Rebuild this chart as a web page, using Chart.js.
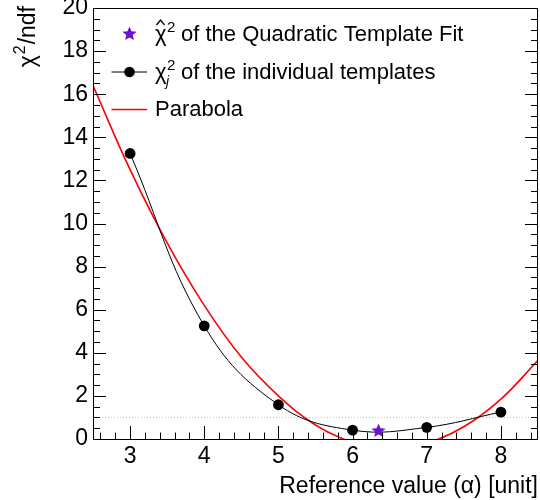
<!DOCTYPE html>
<html>
<head>
<meta charset="utf-8">
<script src="https://cdn.jsdelivr.net/npm/chart.js@4.4.1/dist/chart.umd.min.js"></script>
<style>
  html, body { margin: 0; padding: 0; background: #fff; }
  #wrap { width: 540px; height: 500px; }
</style>
</head>
<body>
<div id="wrap"><canvas id="chi2Chart" width="540" height="500"></canvas></div>
<script>
// values
const templateX = [3, 4, 5, 6, 7, 8];
const templateChi2 = [13.25, 5.25, 1.59, 0.41, 0.54, 1.25];
const fitX = [6.35];
const fitChi2 = [0.40];
const parabolaX = [2.5, 3, 3.5, 4, 4.5, 5, 5.5, 6, 6.5, 7, 7.5, 8, 8.5];
const parabolaY = [16.4, 12.5, 9.1, 6.2, 3.8, 2.0, 0.65, -0.15, -0.43, -0.19, 0.57, 1.85, 3.65];
const refLevel = 1;
const xRange = [2.5, 8.5];
const yRange = [0, 20];
const xTickLabels = [3, 4, 5, 6, 7, 8];
const yTickLabels = [0, 2, 4, 6, 8, 10, 12, 14, 16, 18, 20];

const FONT = '"Liberation Sans", Arial, sans-serif';
const PURPLE = '#6a10d8';

// filled star marker (ROOT style 29)
function makeStar(size, color) {
  const c = document.createElement('canvas');
  c.width = size; c.height = size;
  const g = c.getContext('2d');
  const R = size / 2, r = R * 0.45;
  g.beginPath();
  for (let i = 0; i < 10; i++) {
    const rad = i % 2 ? r : R;
    const a = -Math.PI / 2 + i * Math.PI / 5;
    const px = R + rad * Math.cos(a), py = R + 0.5 + rad * Math.sin(a);
    if (i === 0) g.moveTo(px, py); else g.lineTo(px, py);
  }
  g.closePath();
  g.fillStyle = color;
  g.fill();
  return c;
}
const starImg = makeStar(15, PURPLE);

const toXY = (xs, ys) => xs.map((x, i) => ({ x: x, y: ys[i] }));

// frame, inside ticks, titles and the legend, ROOT style
const rootDecor = {
  id: 'rootDecor',
  afterDraw(chart) {
    const ctx = chart.ctx;
    const a = chart.chartArea;
    const xs = chart.scales.x, ys = chart.scales.y;
    ctx.save();
    ctx.strokeStyle = '#000';
    ctx.lineWidth = 1;
    ctx.strokeRect(a.left + 0.5, a.top + 0.5, a.right - a.left - 1, a.bottom - a.top);

    // x ticks (bottom only)
    ctx.beginPath();
    for (let v = Math.ceil(xRange[0] * 5); v <= Math.floor(xRange[1] * 5); v++) {
      const px = Math.round(xs.getPixelForValue(v / 5)) + 0.5;
      const len = (v % 5 === 0) ? 13 : 6.5;
      ctx.moveTo(px, a.bottom);
      ctx.lineTo(px, a.bottom - len);
    }
    // y ticks (left and right)
    for (let v = yRange[0] * 2; v <= yRange[1] * 2; v++) {
      const py = Math.round(ys.getPixelForValue(v / 2)) + 0.5;
      const len = (v % 4 === 0) ? 13 : 7;
      ctx.moveTo(a.left, py); ctx.lineTo(a.left + len, py);
      ctx.moveTo(a.right, py); ctx.lineTo(a.right - len, py);
    }
    ctx.stroke();

    ctx.fillStyle = '#000';
    ctx.textBaseline = 'alphabetic';

    // x title
    ctx.font = '23px ' + FONT;
    ctx.textAlign = 'right';
    ctx.fillText('Reference value (\u03b1) [unit]', a.right, 493);

    // y title, rotated, near the top
    ctx.save();
    ctx.translate(35, a.top - 2);
    ctx.rotate(-Math.PI / 2);
    ctx.textAlign = 'left';
    ctx.font = '23px ' + FONT;
    const wChi = ctx.measureText('\u03c7').width;
    ctx.font = '16px ' + FONT;
    const wSup = ctx.measureText('2').width;
    ctx.font = '23px ' + FONT;
    const wRest = ctx.measureText('/ndf').width;
    const x0 = -(wChi + wSup + 2 + wRest);
    ctx.fillText('\u03c7', x0, 0);
    ctx.font = '16px ' + FONT;
    ctx.fillText('2', x0 + wChi + 1, -10);
    ctx.font = '23px ' + FONT;
    ctx.fillText('/ndf', x0 + wChi + wSup + 2, 0);
    ctx.restore();

    // legend
    const symX = 129.5, textX = 155, restX = 181;
    // row 1: star, chi2 hat
    ctx.drawImage(starImg, symX - 7.5, 33.5 - 7.5);
    ctx.font = '22px ' + FONT;
    ctx.textAlign = 'left';
    ctx.fillText('\u03c7', textX, 41);
    ctx.beginPath();
    ctx.lineWidth = 1.3;
    ctx.moveTo(textX + 1.5, 25); ctx.lineTo(textX + 5.5, 20); ctx.lineTo(textX + 9.5, 25);
    ctx.stroke();
    ctx.font = '15px ' + FONT;
    ctx.fillText('2', textX + 12, 32);
    ctx.font = '22px ' + FONT;
    ctx.fillText('of the Quadratic Template Fit', restX, 41);

    // row 2: line + dot, chi2_j
    ctx.beginPath();
    ctx.lineWidth = 1;
    ctx.moveTo(111.5, 72); ctx.lineTo(147, 72);
    ctx.stroke();
    ctx.beginPath();
    ctx.arc(symX, 72, 5.3, 0, Math.PI * 2);
    ctx.fill();
    ctx.fillText('\u03c7', textX, 79);
    ctx.font = 'italic 14px ' + FONT;
    ctx.fillText('j', textX + 11, 86);
    ctx.font = '15px ' + FONT;
    ctx.fillText('2', textX + 12, 70);
    ctx.font = '22px ' + FONT;
    ctx.fillText('of the individual templates', restX, 79);

    // row 3: red line, Parabola
    ctx.beginPath();
    ctx.strokeStyle = '#ff0000';
    ctx.lineWidth = 1.6;
    ctx.moveTo(111.5, 109.5); ctx.lineTo(147, 109.5);
    ctx.stroke();
    ctx.fillText('Parabola', textX, 116);
    ctx.restore();
  }
};

const ctx = document.getElementById('chi2Chart').getContext('2d');
new Chart(ctx, {
  type: 'scatter',
  data: {
    datasets: [
      {
        // dotted reference at chi2/ndf = 1
        data: toXY(xRange, [refLevel, refLevel]),
        showLine: true,
        borderColor: '#c4c4c4',
        borderWidth: 1,
        borderDash: [1, 2],
        pointRadius: 0,
        order: 4
      },
      {
        data: toXY(parabolaX, parabolaY),
        showLine: true,
        borderColor: '#ff0000',
        borderWidth: 1.6,
        tension: 0.4,
        pointRadius: 0,
        order: 3
      },
      {
        data: toXY(templateX, templateChi2),
        showLine: true,
        borderColor: '#000',
        borderWidth: 1,
        tension: 0.4,
        pointRadius: 5.4,
        pointBackgroundColor: '#000',
        pointBorderWidth: 0,
        order: 2
      },
      {
        data: toXY(fitX, fitChi2),
        pointStyle: starImg,
        order: 1
      }
    ]
  },
  options: {
    responsive: false,
    animation: false,
    devicePixelRatio: 1,
    layout: { autoPadding: false, padding: { top: 8, right: 2, left: 0, bottom: 0 } },
    plugins: { legend: { display: false }, tooltip: { enabled: false } },
    scales: {
      x: {
        type: 'linear',
        min: xRange[0],
        max: xRange[1],
        grid: { display: false, drawTicks: false, tickLength: 0 },
        border: { display: false },
        ticks: {
          color: '#000',
          padding: 4,
          autoSkip: false,
          maxRotation: 0,
          font: { family: FONT, size: 23 }
        },
        afterBuildTicks(s) { s.ticks = xTickLabels.map(v => ({ value: v })); },
        afterFit(s) { s.height = 61; s.paddingLeft = 0; s.paddingRight = 0; }
      },
      y: {
        min: yRange[0],
        max: yRange[1],
        grid: { display: false, drawTicks: false, tickLength: 0 },
        border: { display: false },
        ticks: {
          color: '#000',
          padding: 5,
          autoSkip: false,
          font: { family: FONT, size: 23 }
        },
        afterBuildTicks(s) { s.ticks = yTickLabels.map(v => ({ value: v })); },
        afterFit(s) { s.width = 93; s.paddingTop = 0; s.paddingBottom = 0; }
      }
    }
  },
  plugins: [rootDecor]
});
</script>
</body>
</html>
